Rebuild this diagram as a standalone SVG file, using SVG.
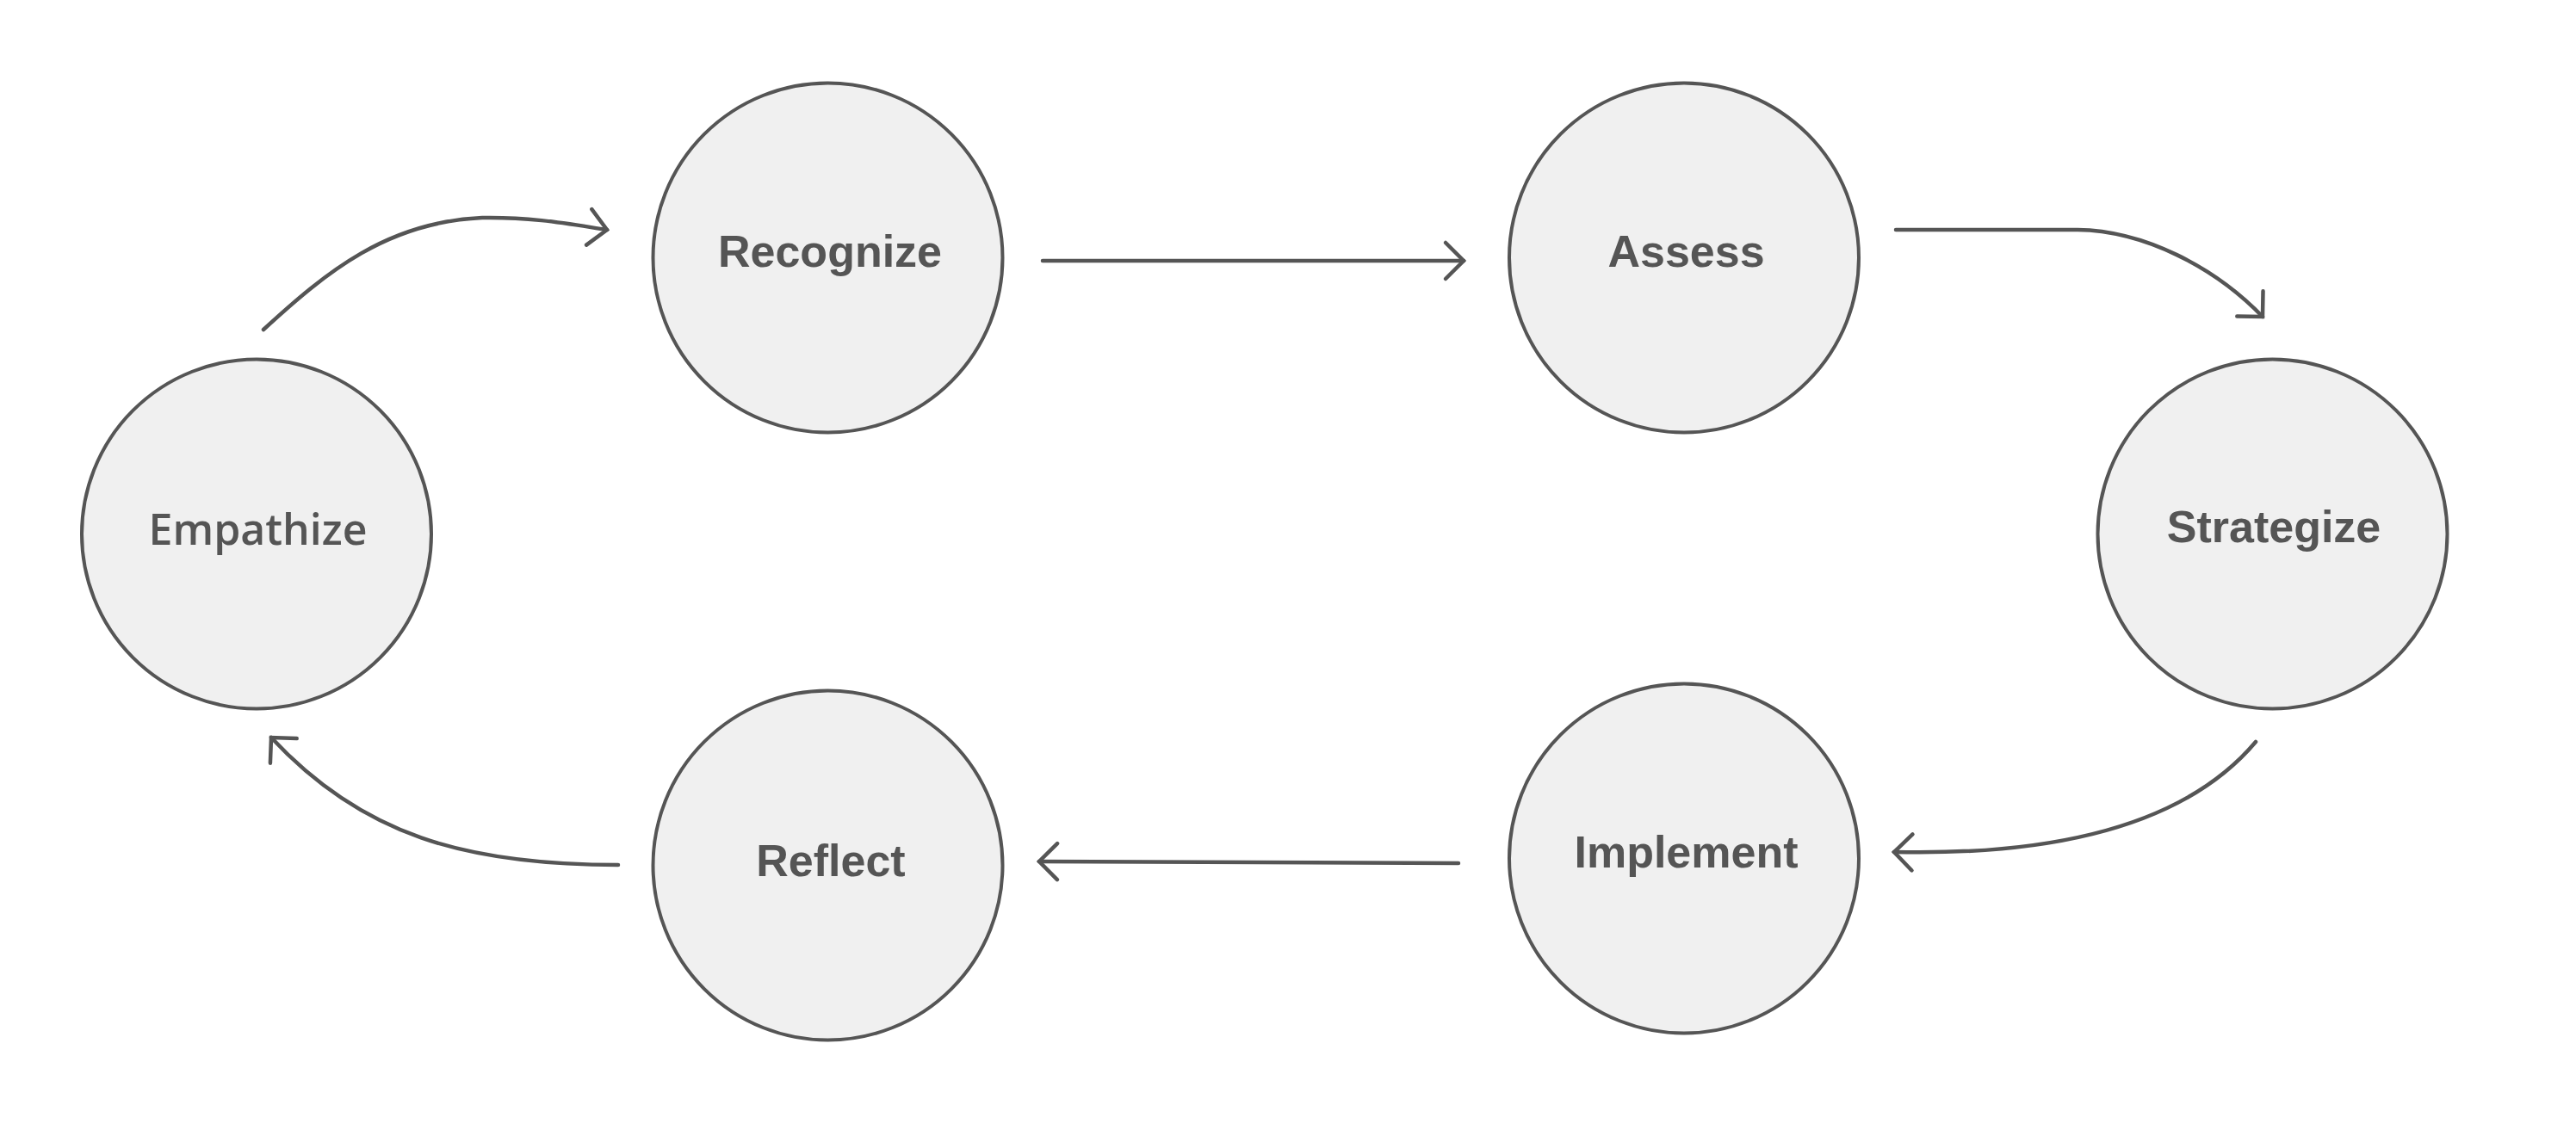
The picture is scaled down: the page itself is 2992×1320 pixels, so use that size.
<svg xmlns="http://www.w3.org/2000/svg" width="2992" height="1320" viewBox="0 0 2992 1320">
  <style>
    .node circle { fill: #f0f0f0; stroke: #555555; stroke-width: 4; }
    .node text { fill: #555555; font-family: "Liberation Sans", Arial, sans-serif; font-weight: bold; font-size: 52px; text-anchor: middle; }
    .node text.alt { font-family: "Open Sans", "Noto Sans", sans-serif; font-weight: 600; font-size: 50px; }
    .edge { fill: none; stroke: #555555; stroke-width: 4.5; stroke-linecap: round; marker-end: url(#chev); }
  </style>
  <defs>
    <marker id="chev" markerUnits="userSpaceOnUse" markerWidth="60" markerHeight="60" viewBox="-30 -30 60 60" refX="0" refY="0" orient="auto">
      <path d="M-21,-21 L0,0 L-21,21" fill="none" stroke="#555555" stroke-width="4.5" stroke-linecap="round" stroke-linejoin="miter"/>
    </marker>
  </defs>
  <rect width="2992" height="1320" fill="#ffffff"/>

  <g id="connectors">
    <path class="edge" d="M306,383 C380,315 450,258 560,253 C620,252 665,261 705,267"/>
    <path class="edge" d="M1211,303 L1700,303"/>
    <path class="edge" d="M2202,267 L2413,267 C2490,268 2572,310 2628,368"/>
    <path class="edge" d="M2620,862 C2550,945 2420,995 2200,990"/>
    <path class="edge" d="M1694,1003 L1207,1001"/>
    <path class="edge" d="M718,1005 C540,1005 420,970 315,857"/>
  </g>

  <g id="node-empathize" class="node">
    <circle cx="298" cy="620.5" r="203"/>
    <text class="alt" x="299.5" y="633">Empathize</text>
  </g>
  <g id="node-recognize" class="node">
    <circle cx="961.5" cy="299.5" r="203"/>
    <text x="964" y="310">Recognize</text>
  </g>
  <g id="node-assess" class="node">
    <circle cx="1956" cy="299.5" r="203"/>
    <text x="1958.5" y="310">Assess</text>
  </g>
  <g id="node-strategize" class="node">
    <circle cx="2639.5" cy="620.5" r="203"/>
    <text x="2641" y="630">Strategize</text>
  </g>
  <g id="node-implement" class="node">
    <circle cx="1956" cy="997.5" r="203"/>
    <text x="1958.5" y="1008">Implement</text>
  </g>
  <g id="node-reflect" class="node">
    <circle cx="961.5" cy="1005.5" r="203"/>
    <text x="965" y="1018">Reflect</text>
  </g>
</svg>
